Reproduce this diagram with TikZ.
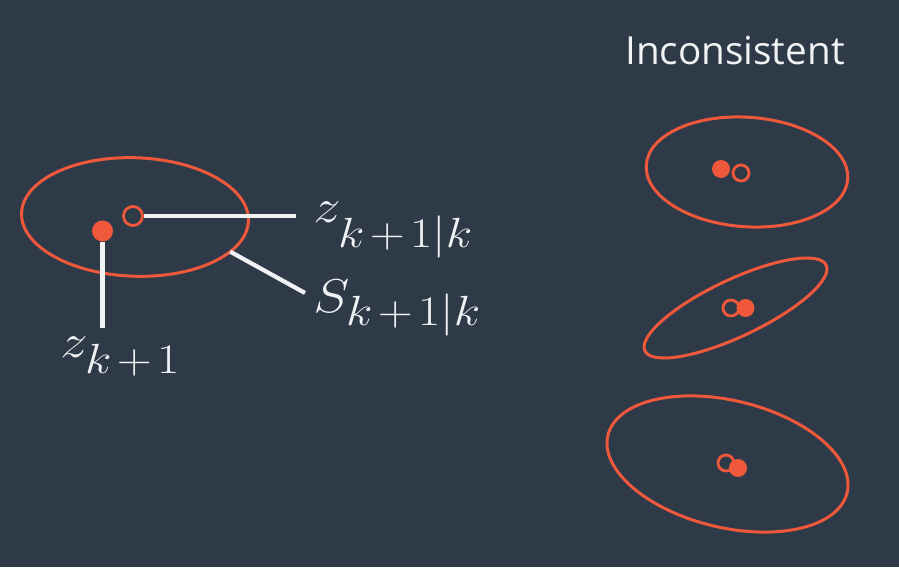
\RequirePackage{fix-cm}
\documentclass[tikz,border=0pt]{standalone}
\usepackage{fontspec}
\newfontfamily\headfont{Open Sans}
\usepackage{amsmath, amssymb}
\usepackage{graphicx}
\usepackage{tikz}
\usetikzlibrary{arrows.meta, calc, positioning, shapes.geometric}
\usepackage{xcolor}
\definecolor{slate}{RGB}{46,58,72}
\definecolor{tomato}{RGB}{240,88,60}
\definecolor{chalk}{RGB}{240,242,244}
\DeclareMathSizes{27}{27}{24}{18}
\newcommand{\lowsub}[2]{\smash{\lower#1\hbox{$\scriptstyle #2$}}}
\newcommand{\widemath}[1]{\scalebox{1.15}[1]{$#1$}}

\begin{document}
\begin{tikzpicture}[>=Stealth,
  covell/.style={ellipse, draw=tomato, line width=1.7pt, inner sep=0pt, outer sep=0pt},
  meas/.style={circle, fill=tomato, inner sep=0pt, minimum size=#1},
  meas/.default=0.36cm,
  pred/.style={circle, draw=tomato, line width=1.6pt, inner sep=0pt, minimum size=#1},
  pred/.default=0.32cm,
  leader/.style={draw=chalk, line width=2.4pt},
  mathlbl/.style={text=chalk, inner sep=0pt, anchor=base west, font=\fontsize{27}{32}\selectfont}]

% background
\fill[slate] (0,0) rectangle (17.98,11.34);
\useasboundingbox (0,0) rectangle (17.98,11.34);

% consistent case
\node[covell, minimum width=4.54cm, minimum height=2.37cm, rotate=-2] (cov) at (2.70,7.00) {};
\node[meas=0.42cm] (zmeas) at (2.05,6.72) {};
\node[pred=0.38cm] (zpred) at (2.66,7.02) {};

\coordinate (predend) at (5.92,7.02);
\coordinate (covend) at (6.10,5.48);
\coordinate (measend) at (2.05,4.78);

\node[mathlbl] (lpred) at (6.26,6.88) {\widemath{z_{\lowsub{9.7pt}{k\mkern2mu{+}\mkern2mu1|k}}}};
\node[mathlbl] (lcov) at (6.26,5.08) {\widemath{S_{\lowsub{2.8pt}{k\mkern2mu{+}\mkern2mu1|k}}}};
\node[mathlbl] (lmeas) at (1.20,4.20) {\widemath{z_{\lowsub{5.1pt}{k\mkern2mu{+}\mkern2mu1}}}};

% leaders
\draw[leader] (zpred) -- (predend);
\draw[leader] (cov.-18) -- (covend);
\draw[leader] (zmeas) -- (measend);

% inconsistent cases
\node[text=chalk, anchor=base, font=\headfont\fontsize{22}{26}\selectfont] (title) at (14.70,10.04) {Inconsistent};

\node[covell, minimum width=4.04cm, minimum height=2.19cm, rotate=-4] (covA) at (14.94,7.90) {};
\node[pred] (predA) at (14.82,7.88) {};
\node[meas] (measA) at (14.42,7.96) {};

\node[covell, minimum width=4.01cm, minimum height=1.14cm, rotate=25.3] (covB) at (14.71,5.18) {};
\node[pred] (predB) at (14.62,5.18) {};
\node[meas] (measB) at (14.91,5.18) {};

\node[covell, minimum width=4.92cm, minimum height=2.54cm, rotate=-13.5] (covC) at (14.55,2.06) {};
\node[pred] (predC) at (14.52,2.08) {};
\node[meas] (measC) at (14.76,1.98) {};

\end{tikzpicture}
\end{document}
